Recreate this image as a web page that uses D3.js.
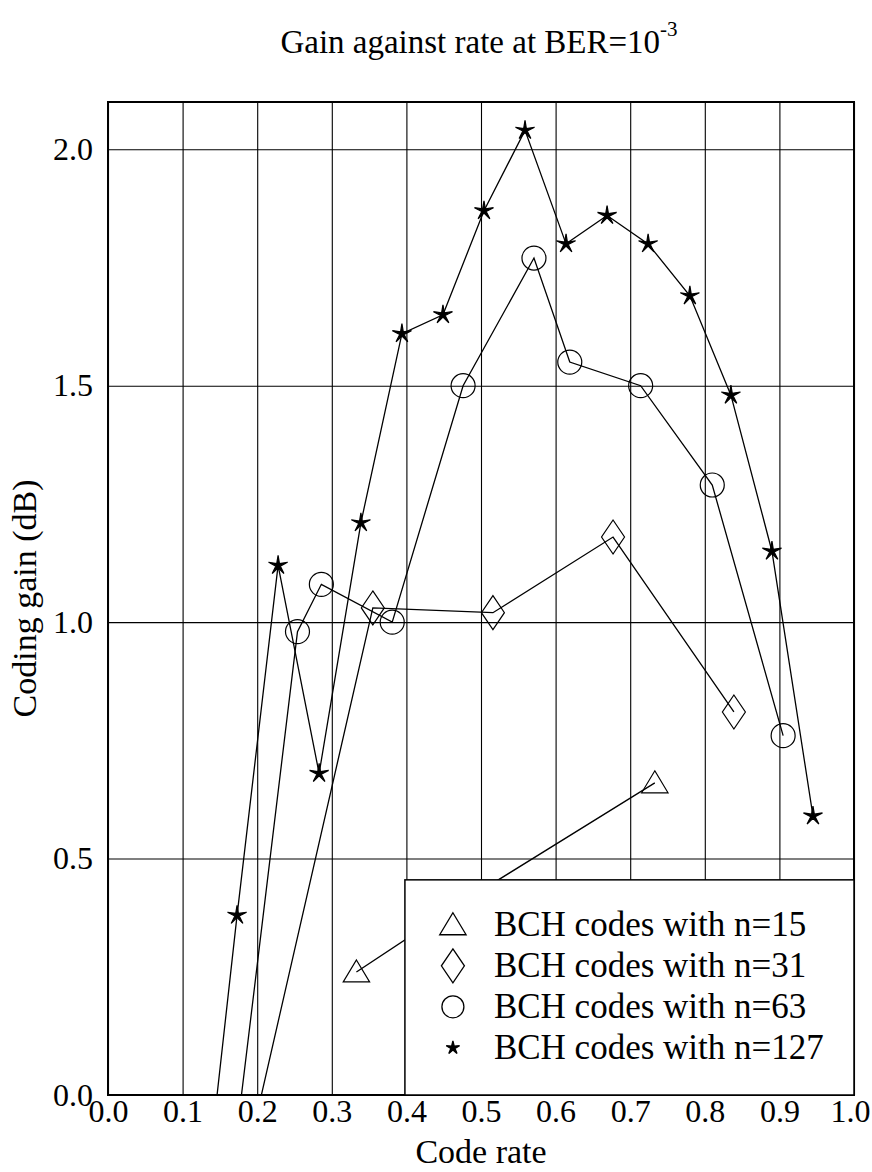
<!DOCTYPE html>
<html>
<head>
<meta charset="utf-8">
<script src="https://cdn.jsdelivr.net/npm/d3@7"></script>
<style>
  body { margin: 0; background: #fff; }
  svg text { font-family: "Liberation Serif", "Times New Roman", serif; fill: #000; }
  .grid line { stroke: #000; stroke-width: 1.1; }
  .grid .domain { display: none; }
</style>
</head>
<body>
<div id="chart"></div>
<script>
// code rates and coding gains (dB)
var rate15  = [0.333, 0.467, 0.733];
var gain15  = [0.26, 0.40, 0.66];
var rate31  = [0.194, 0.355, 0.516, 0.677, 0.839];
var gain31  = [-0.08, 1.03, 1.02, 1.18, 0.81];
var rate63  = [0.159, 0.254, 0.286, 0.381, 0.476, 0.571, 0.619, 0.714, 0.810, 0.905];
var gain63  = [-0.26, 0.98, 1.08, 1.00, 1.50, 1.77, 1.55, 1.50, 1.29, 0.76];
var rate127 = [0.118, 0.173, 0.228, 0.283, 0.339, 0.394, 0.449, 0.504, 0.559, 0.614, 0.669, 0.724, 0.780, 0.835, 0.890, 0.945];
var gain127 = [-0.40, 0.38, 1.12, 0.68, 1.21, 1.61, 1.65, 1.87, 2.04, 1.80, 1.86, 1.80, 1.69, 1.48, 1.15, 0.59];

var xTicks = [0, 0.1, 0.2, 0.3, 0.4, 0.5, 0.6, 0.7, 0.8, 0.9, 1.0];
var yTicks = [0, 0.5, 1.0, 1.5, 2.0];
var legendLabels = ["BCH codes with n=15", "BCH codes with n=31", "BCH codes with n=63", "BCH codes with n=127"];

var margin = { top: 102, right: 18, bottom: 77, left: 108 };
var width  = 872 - margin.left - margin.right;
var height = 1172 - margin.top - margin.bottom;

var svg = d3.select("#chart").append("svg")
    .attr("width", 872)
    .attr("height", 1172);

// title with superscript
var title = svg.append("text")
    .attr("x", 479)
    .attr("y", 53)
    .attr("text-anchor", "middle")
    .style("font-size", "33px");
title.append("tspan").text("Gain against rate at BER=10");
title.append("tspan").attr("dy", -17).style("font-size", "21px").text("-3");

var g = svg.append("g")
    .attr("transform", "translate(" + margin.left + "," + margin.top + ")");

var x = d3.scaleLinear().domain([0, 1]).range([0, width]);
var y = d3.scaleLinear().domain([0, 2.1]).range([height, 0]);

// grid + axes
var xAxisG = g.append("g")
    .attr("class", "grid")
    .attr("transform", "translate(0," + height + ")")
    .call(d3.axisBottom(x).tickValues(xTicks).tickFormat(d3.format(".1f"))
        .tickSizeInner(-height).tickSizeOuter(0).tickPadding(4));
xAxisG.selectAll("text").style("font-size", "32px");
// last label sits at the right edge of the page, nudge it in
xAxisG.selectAll(".tick").filter(function(d) { return d == 1; })
    .select("text").attr("dx", -4);

g.append("g")
    .attr("class", "grid")
    .call(d3.axisLeft(y).tickValues(yTicks).tickFormat(d3.format(".1f"))
        .tickSizeInner(-width).tickSizeOuter(0).tickPadding(15))
    .selectAll("text").style("font-size", "32px");

g.append("rect")
    .attr("width", width).attr("height", height)
    .attr("fill", "none").attr("stroke", "#000").attr("stroke-width", 2);

// axis labels
g.append("text")
    .attr("x", width / 2)
    .attr("y", height + 68)
    .attr("text-anchor", "middle")
    .style("font-size", "34px")
    .text("Code rate");

svg.append("text")
    .attr("transform", "rotate(-90)")
    .attr("x", -(margin.top + height / 2))
    .attr("y", 36)
    .attr("text-anchor", "middle")
    .style("font-size", "34px")
    .text("Coding gain (dB)");

// clip series to plot area
g.append("clipPath").attr("id", "plotClip")
  .append("rect").attr("width", width).attr("height", height);

var plot = g.append("g").attr("clip-path", "url(#plotClip)");

// marker shapes
function triangle(s) { return "M0," + (-s * 0.55) + "L" + (s * 0.6) + "," + (s * 0.45) + "L" + (-s * 0.6) + "," + (s * 0.45) + "Z"; }
function diamond(w, h) { return "M0," + (-h) + "L" + w + ",0L0," + h + "L" + (-w) + ",0Z"; }
function star(ro, ri) {
    var p = [];
    for (var i = 0; i < 10; i++) {
        var r = i % 2 == 0 ? ro : ri;
        var a = -Math.PI / 2 + i * Math.PI / 5;
        p.push([r * Math.cos(a), r * Math.sin(a)]);
    }
    return "M" + p.join("L") + "Z";
}

var series = [
    { rate: rate15,  gain: gain15,  shape: triangle(22), fill: "none" },
    { rate: rate31,  gain: gain31,  shape: diamond(11.5, 17), fill: "none" },
    { rate: rate63,  gain: gain63,  shape: d3.symbol().type(d3.symbolCircle).size(Math.PI * 12 * 12)(), fill: "none" },
    { rate: rate127, gain: gain127, shape: star(10, 2.3), fill: "#000" }
];

var line = d3.line()
    .x(function(d) { return x(d[0]); })
    .y(function(d) { return y(d[1]); });

series.forEach(function(s) {
    var pts = s.rate.map(function(r, i) { return [r, s.gain[i]]; });

    plot.append("path")
        .datum(pts)
        .attr("d", line)
        .attr("fill", "none")
        .attr("stroke", "#000")
        .attr("stroke-width", 1.3);

    plot.selectAll(null)
        .data(pts)
        .enter().append("path")
        .attr("transform", function(d) { return "translate(" + x(d[0]) + "," + y(d[1]) + ")"; })
        .attr("d", s.shape)
        .attr("fill", s.fill)
        .attr("stroke", "#000")
        .attr("stroke-width", 1.2);
});

// legend box covers the lower right of the plot
var legX = x(0.398), legY = y(0.455);
var legend = g.append("g");
legend.append("rect")
    .attr("x", legX).attr("y", legY)
    .attr("width", width - legX).attr("height", height - legY)
    .attr("fill", "#fff").attr("stroke", "#000").attr("stroke-width", 1.5);

var legShapes = [triangle(22), diamond(11.5, 17), d3.symbol().type(d3.symbolCircle).size(Math.PI * 11 * 11)(), star(7, 2.2)];

legendLabels.forEach(function(lab, i) {
    var by = legY + 56 + i * 41;
    legend.append("path")
        .attr("transform", "translate(" + (legX + 48) + "," + (by - 11) + ")")
        .attr("d", legShapes[i])
        .attr("fill", i == 3 ? "#000" : "none")
        .attr("stroke", "#000")
        .attr("stroke-width", 1.3);
    legend.append("text")
        .attr("x", legX + 89)
        .attr("y", by)
        .style("font-size", "35px")
        .text(lab);
});
</script>
</body>
</html>
